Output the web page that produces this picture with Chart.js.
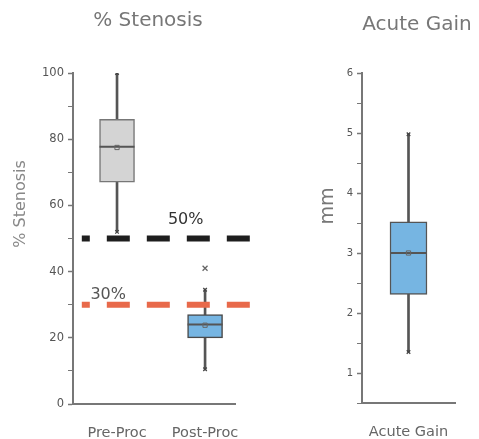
<!DOCTYPE html>
<html><head><meta charset="utf-8">
<script src="https://cdn.jsdelivr.net/npm/chart.js@4"></script>
<style>
html,body{margin:0;padding:0;background:#fff;}
#wrap{position:relative;width:479px;height:439px;overflow:hidden;}
#c1{position:absolute;left:0;top:0;}
#c2{position:absolute;left:300px;top:0;}
</style></head><body>
<div id="wrap"><canvas id="c1" width="300" height="439"></canvas><canvas id="c2" width="179" height="439"></canvas></div>
<script>
// ---- data: % Stenosis ----
const stenTitle = '% Stenosis';
const stenCategories = ['Pre-Proc', 'Post-Proc'];
const stenMin    = [52, 10.5];
const stenQ1     = [67, 20];
const stenMedian = [77.7, 24];
const stenMean   = [77.5, 23.8];
const stenQ3     = [86, 27];
const stenMax    = [100, 34.5];
const stenOutliers = [[], [41]];
const stenYTickLabels = [0, 20, 40, 60, 80, 100];
const thresholdValues = [50, 30];
const thresholdLabels = ['50%', '30%'];

// ---- data: Acute Gain ----
const gainTitle = 'Acute Gain';
const gainCategories = ['Acute Gain'];
const gainMin    = [1.35];
const gainQ1     = [2.31];
const gainMedian = [3.0];
const gainMean   = [3.0];
const gainQ3     = [3.52];
const gainMax    = [4.98];
const gainOutliers = [[]];
const gainYTickLabels = [1, 2, 3, 4, 5, 6];

const FONT = "'DejaVu Sans', 'Liberation Sans', sans-serif";

function boxDatasets(mn, q1, md, mean, q3, mx, outl, fills, borders, boxW) {
  const idx = mn.map((_, i) => i);
  const ext = [];
  idx.forEach(i => { ext.push({x: i, y: mn[i]}); ext.push({x: i, y: mx[i]}); });
  const out = [];
  idx.forEach(i => outl[i].forEach(v => out.push({x: i, y: v})));
  return [
    {type: 'line', showLine: false, data: ext, pointStyle: 'crossRot', pointRadius: 2.5,
     pointBorderColor: '#444', pointBorderWidth: 1.3, pointBackgroundColor: 'transparent'},
    {type: 'line', showLine: false, data: out, pointStyle: 'crossRot', pointRadius: 3.5,
     pointBorderColor: '#666', pointBorderWidth: 1.3},
    {type: 'line', showLine: false, data: idx.map(i => ({x: i, y: mean[i]})), pointStyle: 'rect',
     pointRadius: 3, pointBorderColor: '#666', pointBorderWidth: 1, pointBackgroundColor: 'transparent'},
    {type: 'line', showLine: false, data: idx.map(i => ({x: i, y: md[i]})), pointStyle: 'line',
     pointRadius: boxW / 2, pointBorderColor: '#555', pointBorderWidth: 2},
    {type: 'bar', data: idx.map(i => ({x: i, y: [q1[i], q3[i]]})), barThickness: boxW, grouped: false,
     backgroundColor: fills, borderColor: borders, borderWidth: 1.5, borderSkipped: false},
    {type: 'bar', data: idx.map(i => ({x: i, y: [mn[i], mx[i]]})), barThickness: 2, grouped: false,
     backgroundColor: '#555', borderWidth: 0}
  ];
}

const txtPlugin = {
  id: 'txt',
  afterDatasetsDraw(chart, args, opts) {
    const ctx = chart.ctx;
    (opts.items || []).forEach(it => {
      let x = it.x, y = it.y;
      if (it.data) {
        x = chart.scales.x.getPixelForValue(it.x);
        y = chart.scales.y.getPixelForValue(it.y) + (it.dy || 0);
      }
      ctx.save();
      ctx.translate(x, y);
      if (it.rotate) ctx.rotate(it.rotate);
      ctx.font = it.font;
      ctx.fillStyle = it.color;
      ctx.textAlign = 'center';
      ctx.textBaseline = 'middle';
      ctx.fillText(it.text, 0, 0);
      ctx.restore();
    });
  }
};

function yScale(min, max, step, labels, width, fontSize) {
  return {
    type: 'linear', min: min, max: max,
    ticks: {stepSize: step, color: '#555', font: {family: FONT, size: fontSize}, padding: 4,
      callback: v => labels.includes(v) ? String(v) : ''},
    grid: {drawOnChartArea: false, drawTicks: true, tickLength: 5, tickColor: '#777',
      tickWidth: c => (c.tick && labels.includes(c.tick.value)) ? 1.5 : 1},
    border: {display: true, color: '#777', width: 2},
    afterFit: s => { s.width = width; }
  };
}
function xScale(min, max, cats, height) {
  return {
    type: 'linear', min: min, max: max, offset: false,
    afterBuildTicks: s => { s.ticks = cats.map((_, i) => ({value: i})); },
    ticks: {color: '#666', font: {family: FONT, size: 14.5}, padding: 13, autoSkip: false, maxRotation: 0,
      callback: v => cats[v]},
    grid: {display: false},
    border: {display: true, color: '#777', width: 2},
    afterFit: s => { s.height = height; }
  };
}

// ---- chart 1 ----
const thrColors = ['#1e1e1e', '#e8694a'];
const thrLabelColors = ['#333', '#555'];
const thrLines = thresholdValues.map((v, k) => ({
  type: 'line', data: [{x: -0.4, y: v}, {x: 1.535, y: v}], borderColor: thrColors[k], borderWidth: 6,
  borderDash: [23, 17], borderDashOffset: 15, borderCapStyle: 'butt', pointRadius: 0, clip: false
}));
const ds1 = boxDatasets(stenMin, stenQ1, stenMedian, stenMean, stenQ3, stenMax, stenOutliers,
  ['#d4d4d4', '#76b5e2'], ['#777', '#4a4a4a'], 35);

new Chart(document.getElementById('c1'), {
  type: 'bar',
  data: {datasets: ds1.slice(0, 4).concat(thrLines, ds1.slice(4))},
  options: {
    responsive: false, animation: false,
    layout: {padding: {left: 0, right: 65, top: 73, bottom: 0}},
    plugins: {
      legend: {display: false}, tooltip: {enabled: false}, title: {display: false},
      txt: {items: [
        {text: stenTitle, x: 148, y: 21, font: '20px ' + FONT, color: '#777'},
        {text: '% Stenosis', x: 21, y: 204, rotate: -Math.PI / 2, font: '16px ' + FONT, color: '#888'},
        {text: thresholdLabels[0], data: true, x: 0.78, y: thresholdValues[0], dy: -19, font: '16px ' + FONT, color: thrLabelColors[0]},
        {text: thresholdLabels[1], data: true, x: -0.1, y: thresholdValues[1], dy: -10, font: '16px ' + FONT, color: thrLabelColors[1]}
      ]}
    },
    scales: {
      x: xScale(-0.5, 1.34, stenCategories, 35),
      y: yScale(0, 100, 10, stenYTickLabels, 73, 11.5)
    }
  },
  plugins: [txtPlugin]
});

// ---- chart 2 ----
const ds2 = boxDatasets(gainMin, gainQ1, gainMedian, gainMean, gainQ3, gainMax, gainOutliers,
  ['#76b5e2'], ['#555'], 37);
new Chart(document.getElementById('c2'), {
  type: 'bar',
  data: {datasets: ds2},
  options: {
    responsive: false, animation: false,
    layout: {padding: {left: 0, right: 24, top: 73, bottom: 0}},
    plugins: {
      legend: {display: false}, tooltip: {enabled: false}, title: {display: false},
      txt: {items: [
        {text: gainTitle, x: 117, y: 25, font: '20px ' + FONT, color: '#777'},
        {text: 'mm', x: 28, y: 206, rotate: -Math.PI / 2, font: '19px ' + FONT, color: '#777'}
      ]}
    },
    scales: {
      x: xScale(-0.5, 0.5, gainCategories, 36),
      y: yScale(0.5, 6, 0.5, gainYTickLabels, 62, 10)
    }
  },
  plugins: [txtPlugin]
});
</script>
</body></html>
